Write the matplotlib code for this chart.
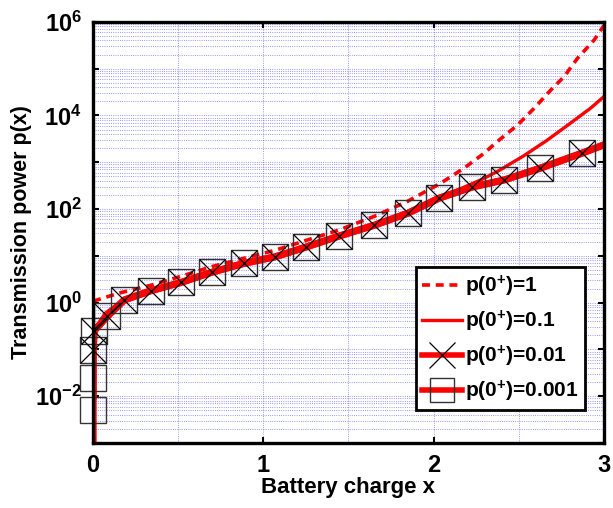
import numpy as np
import matplotlib
matplotlib.use('Agg')
import matplotlib.pyplot as plt
from matplotlib.lines import Line2D
from matplotlib.ticker import FixedLocator, FuncFormatter, LogLocator, MultipleLocator

plt.rcParams['font.family'] = ['Liberation Sans', 'DejaVu Sans']
plt.rcParams['font.weight'] = 'bold'
plt.rcParams['mathtext.fontset'] = 'custom'
plt.rcParams['mathtext.rm'] = 'Liberation Sans:bold'
plt.rcParams['mathtext.bf'] = 'Liberation Sans:bold'
plt.rcParams['mathtext.default'] = 'bf'

# p(0+)=1, dashed (log10 of p)
x_p1 = [0.0, 0.149, 0.345, 0.541, 0.698, 1.07, 1.443, 1.649, 1.845, 2.041, 2.178, 2.296,
        2.374, 2.492, 2.59, 2.688, 2.767, 2.845, 2.943, 3.0]
logy_p1 = [0.03, 0.2, 0.376, 0.59, 0.77, 1.12, 1.55, 1.84, 2.16, 2.55, 2.87, 3.19,
           3.44, 3.79, 4.15, 4.54, 4.83, 5.22, 5.61, 5.92]

# p(0+)=0.1, thin solid
x_p01 = [0.0, 0.006, 0.07, 0.149, 0.247, 0.443, 0.62, 0.888, 1.071, 1.253, 1.443,
         1.649, 1.849, 2.031, 2.15, 2.276, 2.374, 2.531, 2.667, 2.806, 2.924, 3.0]
logy_p01 = [-1.0, -0.6, -0.23, -0.015, 0.127, 0.34, 0.55, 0.84, 0.98, 1.19, 1.42,
            1.65, 1.91, 2.23, 2.42, 2.62, 2.80, 3.14, 3.47, 3.84, 4.16, 4.40]

# shared body of the p(0+)=0.01 / 0.001 curves (marker points)
x_body = [0.006, 0.084, 0.182, 0.339, 0.516, 0.698, 0.888, 1.071, 1.253, 1.443,
          1.649, 1.849, 2.031, 2.227, 2.414, 2.625, 2.869, 3.0]
logy_body = [-0.6, -0.29, 0.055, 0.254, 0.43, 0.65, 0.84, 0.98, 1.19, 1.42,
             1.65, 1.91, 2.23, 2.47, 2.62, 2.87, 3.19, 3.37]

# starts near x=0
x_p001_start = [0.0, 0.0]
logy_p001_start = [-2.0, -1.01]
x_p0001_start = [0.0, 0.0, 0.0, 0.0]
logy_p0001_start = [-3.0, -2.29, -1.61, -1.01]

labels = [r'p(0$^{+}$)=1', r'p(0$^{+}$)=0.1', r'p(0$^{+}$)=0.01', r'p(0$^{+}$)=0.001']

fig = plt.figure(figsize=(6.13, 5.08), dpi=100)
ax = fig.add_axes([0.152, 0.128, 0.833, 0.829])

red = '#ff0000'
dash = (0, (2.2, 1.6))

x3 = x_p001_start + x_body
y3 = 10.0 ** np.array(logy_p001_start + logy_body)
x4 = x_p0001_start + x_body
y4 = 10.0 ** np.array(logy_p0001_start + logy_body)

ax.plot(x4, y4, color=red, lw=5)
ax.plot(x3, y3, color=red, lw=5)
ax.plot(x_p01, 10.0 ** np.array(logy_p01), color=red, lw=2.4)
ax.plot(x_p1, 10.0 ** np.array(logy_p1), color=red, lw=2.6, ls=dash)

# markers (not on the final end point)
ax.plot(x4[1:-1], y4[1:-1], ls='none', marker='s', ms=19, mfc='none',
        mec='#333333', mew=1.0, clip_on=False)
ax.plot(x3[1:-1], y3[1:-1], ls='none', marker='x', ms=19, mfc='none',
        mec='black', mew=0.9, clip_on=False)

ax.set_yscale('log')
ax.set_xlim(0, 3)
ax.set_ylim(1e-3, 1e6)

ax.yaxis.set_major_locator(FixedLocator([10.0 ** k for k in range(-3, 7)]))
ax.yaxis.set_major_formatter(FuncFormatter(
    lambda v, p: r'$\mathbf{10^{%d}}$' % round(np.log10(v)) if round(np.log10(v)) % 2 == 0 else ''))
ax.yaxis.set_minor_locator(LogLocator(base=10, subs=np.arange(2, 10), numticks=20))
ax.yaxis.set_minor_formatter(FuncFormatter(lambda v, p: ''))
ax.xaxis.set_major_locator(FixedLocator([0, 1, 2, 3]))
ax.xaxis.set_minor_locator(MultipleLocator(0.5))

ax.grid(True, which='both', color='blue', ls=':', lw=0.6, alpha=0.55)
ax.set_axisbelow(True)

ax.tick_params(which='major', direction='in', length=4, width=1.5, labelsize=17,
               pad=8, top=True, right=True)
ax.tick_params(which='minor', length=0)
for s in ax.spines.values():
    s.set_linewidth(2.4)

ax.set_xlabel('Battery charge x', fontsize=16, fontweight='bold', labelpad=0)
ax.set_ylabel('Transmission power p(x)', fontsize=15.5, fontweight='bold', labelpad=2)

h1 = Line2D([], [], color=red, lw=2.6, ls=dash)
h2 = Line2D([], [], color=red, lw=2.4)
h3 = Line2D([], [], color=red, lw=4, marker='x', ms=19, mec='black', mew=0.9)
h4 = Line2D([], [], color=red, lw=4, marker='s', ms=17, mfc='none', mec='#333333', mew=1.0)
leg = ax.legend([h1, h2, h3, h4], labels, loc='lower right', bbox_to_anchor=(0.963, 0.078),
                fontsize=15, frameon=True, fancybox=False, framealpha=1,
                edgecolor='black', handlelength=1.9, handletextpad=0.15,
                labelspacing=0.47, borderpad=0.3, borderaxespad=0)
leg.get_frame().set_linewidth(2.0)
for t in leg.get_texts():
    t.set_fontweight('bold')

fig.savefig('out.png', dpi=100)
